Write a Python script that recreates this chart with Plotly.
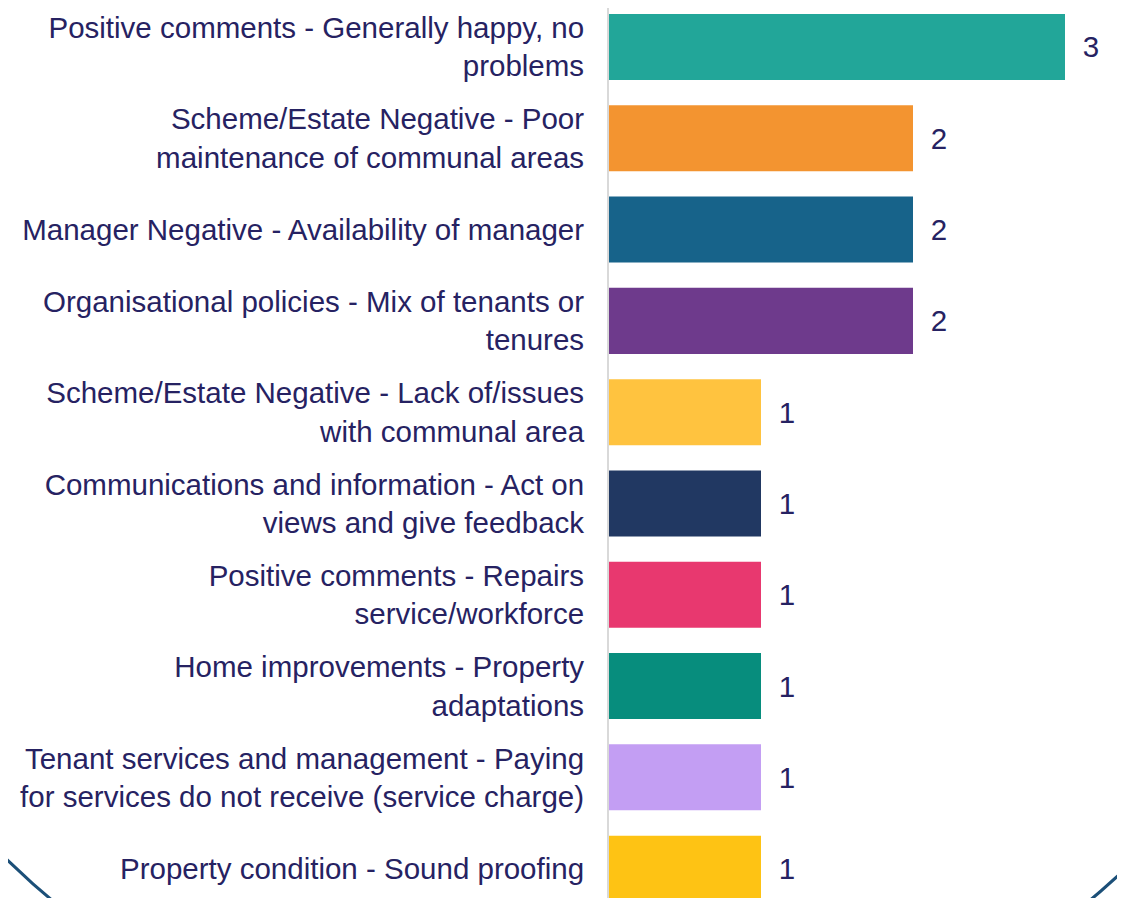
import plotly.graph_objects as go

categories = [
    "Positive comments - Generally happy, no<br>problems",
    "Scheme/Estate Negative - Poor<br>maintenance of communal areas",
    "Manager Negative - Availability of manager",
    "Organisational policies - Mix of tenants or<br>tenures",
    "Scheme/Estate Negative - Lack of/issues<br>with communal area",
    "Communications and information - Act on<br>views and give feedback",
    "Positive comments - Repairs<br>service/workforce",
    "Home improvements - Property<br>adaptations",
    "Tenant services and management - Paying<br>for services do not receive (service charge)",
    "Property condition - Sound proofing",
]
values = [3, 2, 2, 2, 1, 1, 1, 1, 1, 1]
colors = ["#22A699", "#F39430", "#17638A", "#6E3A8C", "#FFC33F",
          "#213862", "#E8386F", "#078D7D", "#C39EF3", "#FEC314"]

TXT = "#262262"
FONT = "Liberation Sans, Arial, sans-serif"
FS = 29.5

fig = go.Figure(go.Bar(
    x=values, y=categories, orientation="h",
    marker=dict(color=colors, line=dict(width=0)),
    text=["\u2002" + str(v) for v in values],
    textposition="outside",
    textfont=dict(family=FONT, size=FS, color=TXT),
    cliponaxis=False,
    hoverinfo="skip",
))

W, H = 1125, 898
OFF = 8  # page body margin
L = 609 - OFF
pw = W - L

def px_x(p):
    return (p - OFF - L) / pw

def px_y(p):
    return (H - (p - OFF)) / H

# decorative background circle (only the lower corners are visible)
cx, cy, r = 571, 281, 808
fig.add_shape(type="circle", xref="paper", yref="paper",
              x0=px_x(cx - r), x1=px_x(cx + r),
              y0=px_y(cy + r), y1=px_y(cy - r),
              line=dict(color="#1B4F78", width=3), layer="below")

fig.update_layout(
    width=W, height=H,
    margin=dict(l=L, r=0, t=0, b=0),
    plot_bgcolor="white", paper_bgcolor="white",
    bargap=0.277,
    showlegend=False,
    font=dict(family=FONT, size=FS, color=TXT),
    xaxis=dict(range=[0, pw / 152], visible=False, fixedrange=True),
    yaxis=dict(type="category", categoryorder="array", categoryarray=categories,
               range=[9.409, -0.427], showline=True, linecolor="#D9D9D9", linewidth=2,
               ticks="", ticklabelstandoff=17, showgrid=False, zeroline=False,
               tickfont=dict(family=FONT, size=FS, color=TXT), automargin=False),
)

fig.write_html("out.html")
